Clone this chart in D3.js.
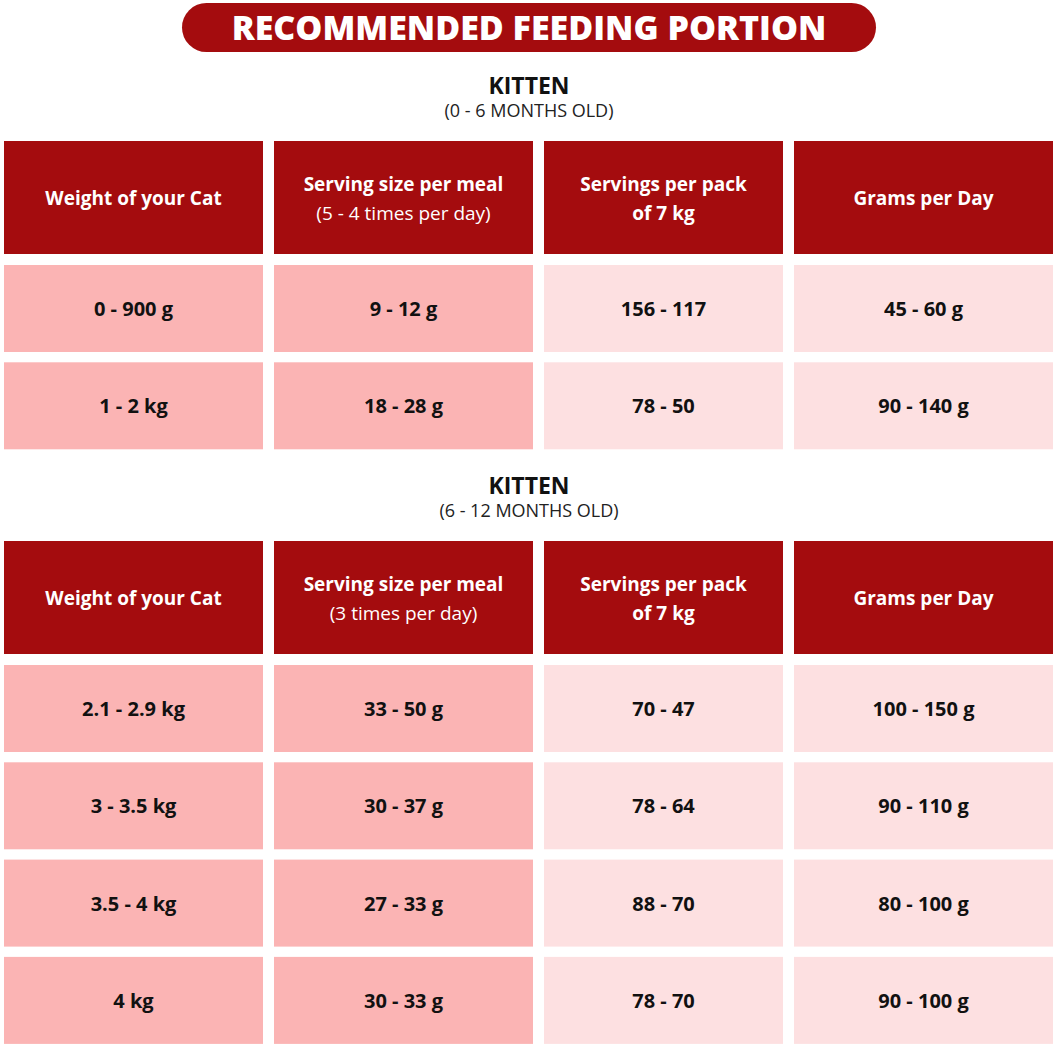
<!DOCTYPE html>
<html><head><meta charset="utf-8">
<script src="https://cdn.jsdelivr.net/npm/d3@7"></script>
<style>body{margin:0;background:#fff}</style></head>
<body><svg id="c" width="1058" height="1048"></svg>
<script>
const title = "RECOMMENDED FEEDING PORTION";
const headers1 = [["Weight of your Cat"],["Serving size per meal","(5 - 4 times per day)"],["Servings per pack","of 7 kg"],["Grams per Day"]];
const headers2 = [["Weight of your Cat"],["Serving size per meal","(3 times per day)"],["Servings per pack","of 7 kg"],["Grams per Day"]];
const rows1 = [["0 - 900 g","9 - 12 g","156 - 117","45 - 60 g"],["1 - 2 kg","18 - 28 g","78 - 50","90 - 140 g"]];
const rows2 = [["2.1 - 2.9 kg","33 - 50 g","70 - 47","100 - 150 g"],["3 - 3.5 kg","30 - 37 g","78 - 64","90 - 110 g"],["3.5 - 4 kg","27 - 33 g","88 - 70","80 - 100 g"],["4 kg","30 - 33 g","78 - 70","90 - 100 g"]];
const sections = [{t:"KITTEN",s:"(0 - 6 MONTHS OLD)",h:headers1,r:rows1,y:65},{t:"KITTEN",s:"(6 - 12 MONTHS OLD)",h:headers2,r:rows2,y:465}];
const svg = d3.select("#c");
const F = "'Open Sans', sans-serif";
const colX = [[4,263],[274,533],[544,783],[794,1053]];
const red="#a40c0e", dark="#fbb4b4", light="#fde0e1";
svg.append("rect").attr("x",182).attr("y",3).attr("width",694).attr("height",49).attr("rx",24.5).attr("fill",red);
svg.append("text").attr("x",529).attr("y",40).attr("text-anchor","middle").attr("font-family",F).attr("font-weight",800).attr("font-size",34).attr("fill","#fff").text(title);
sections.forEach(sec=>{
  const g=svg.append("g");
  g.append("text").attr("x",529).attr("y",sec.y+29).attr("text-anchor","middle").attr("font-family",F).attr("font-weight",700).attr("font-size",23).attr("fill","#111").text(sec.t);
  g.append("text").attr("x",529).attr("y",sec.y+52).attr("text-anchor","middle").attr("font-family",F).attr("font-size",18).attr("fill","#222").text(sec.s);
  const hy=sec.y+76;
  sec.h.forEach((h,i)=>{
    const [x0,x1]=colX[i], cx=(x0+x1)/2;
    g.append("rect").attr("x",x0).attr("y",hy).attr("width",x1-x0).attr("height",113).attr("fill",red);
    if(h.length==1) g.append("text").attr("x",cx).attr("y",hy+64).attr("text-anchor","middle").attr("font-family",F).attr("font-weight",700).attr("font-size",19).attr("fill","#fff").text(h[0]);
    else {
      g.append("text").attr("x",cx).attr("y",hy+50).attr("text-anchor","middle").attr("font-family",F).attr("font-weight",700).attr("font-size",19).attr("fill","#fff").text(h[0]);
      g.append("text").attr("x",cx).attr("y",hy+79).attr("text-anchor","middle").attr("font-family",F).attr("font-weight",i==1?400:700).attr("font-size",19).attr("fill","#fff").text(h[1]);
    }
  });
  sec.r.forEach((row,j)=>{
    const ry=hy+124+j*97.3;
    row.forEach((v,i)=>{
      const [x0,x1]=colX[i];
      g.append("rect").attr("x",x0).attr("y",ry).attr("width",x1-x0).attr("height",87).attr("fill",i<2?dark:light);
      g.append("text").attr("x",(x0+x1)/2).attr("y",ry+51).attr("text-anchor","middle").attr("font-family",F).attr("font-weight",700).attr("font-size",20).attr("fill","#111").text(v);
    });
  });
});
</script></body></html>
